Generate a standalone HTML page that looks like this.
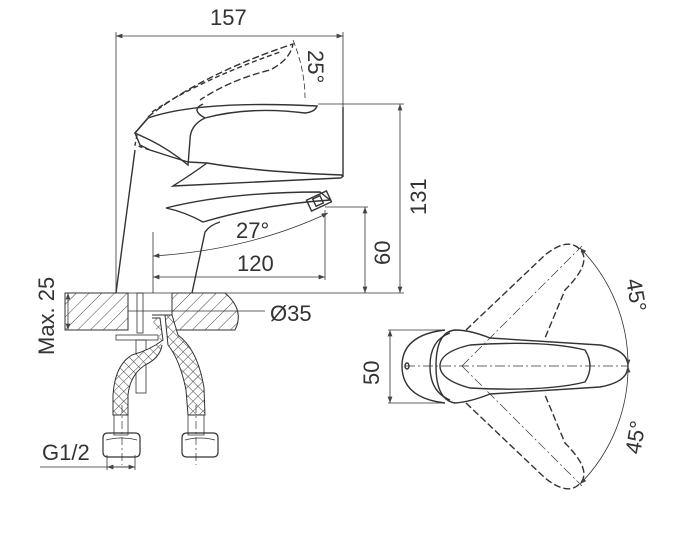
<!DOCTYPE html>
<html><head><meta charset="utf-8"><style>
html,body{margin:0;padding:0;background:#fff;}
svg{display:block;}
text{font-family:"Liberation Sans Narrow","Liberation Sans",sans-serif;fill:#333;}
</style></head><body>
<svg width="680" height="549" viewBox="0 0 680 549" xmlns="http://www.w3.org/2000/svg">
<defs>
<pattern id="hatch" width="9" height="9" patternUnits="userSpaceOnUse" patternTransform="rotate(45)">
<line x1="0" y1="0" x2="0" y2="9" stroke="#444" stroke-width="1"/>
</pattern>
<pattern id="mesh" width="7" height="7" patternUnits="userSpaceOnUse" patternTransform="rotate(45)">
<rect width="7" height="7" fill="#fff"/>
<path d="M0 0H7M0 0V7" stroke="#444" stroke-width="1"/>
</pattern>
<marker id="a" markerWidth="8" markerHeight="6" refX="8" refY="3" orient="auto"><path d="M0 0L8 3L0 6Z" fill="#444"/></marker>
<marker id="b" markerWidth="8" markerHeight="6" refX="0" refY="3" orient="auto"><path d="M8 0L0 3L8 6Z" fill="#444"/></marker>
</defs>
<g fill="none" stroke="#333" stroke-width="1.4">
<line x1="116" y1="36" x2="343" y2="36" stroke-width="0.8" marker-start="url(#b)" marker-end="url(#a)"/>
<line x1="116" y1="32" x2="116" y2="293" stroke-width="0.8"/>
<line x1="343" y1="32" x2="343" y2="177" stroke-width="0.8"/>
<path d="M293 40 Q305 70 305 98" stroke-dasharray="6 3" stroke-width="0.8"/>
<path d="M148 117 Q200 75 293 44 Q290 60 270 70 Q230 80 200 100" stroke-dasharray="7 3"/>
<path d="M152 112 Q200 80 280 52" stroke-dasharray="5 3"/>
<path d="M137 135 L135 145 L150 150" stroke-dasharray="4 3"/>
<path d="M148 118 Q200 100 317 106 Q315 112 305 113 Q250 106 205 118 Q190 125 190 140 L188 165 Q170 150 150 140 L135 133 Z"/>
<path d="M148 118 L135 133 L140 145 L150 150 L175 158 L188 162"/>
<path d="M203 104 Q190 110 205 118"/>
<path d="M188 162 L207 163 Q260 172 342 175 Q343 178 340 178 L173 186 Q195 172 207 163"/>
<line x1="343" y1="107" x2="343" y2="177"/>
<path d="M135 150 L116 293"/>
<path d="M192 293 L205 232 Q210 225 220 222"/>
<path d="M166 208 Q230 192 320 192 L330 200 Q260 205 203 222 Q185 212 166 208 Z"/>
<rect x="308" y="195" width="22" height="12" transform="rotate(-25 319 201)"/>
<rect x="314" y="197" width="8" height="8" transform="rotate(-25 318 201)"/>
<line x1="318" y1="104" x2="404" y2="104" stroke-width="0.8"/>
<line x1="400" y1="104" x2="400" y2="293" stroke-width="0.8" marker-start="url(#b)" marker-end="url(#a)"/>
<line x1="325" y1="207" x2="368" y2="207" stroke-width="0.8"/>
<line x1="365" y1="207" x2="365" y2="293" stroke-width="0.8" marker-start="url(#b)" marker-end="url(#a)"/>
<line x1="65" y1="293" x2="404" y2="293" stroke-width="0.8"/>
<line x1="153" y1="232" x2="153" y2="293" stroke-width="0.8"/>
<line x1="325" y1="210" x2="325" y2="280" stroke-width="0.8"/>
<line x1="153" y1="277" x2="325" y2="277" stroke-width="0.8" marker-start="url(#b)" marker-end="url(#a)"/>
<path d="M153 256 Q250 250 328 213" stroke-width="0.8" marker-start="url(#b)" marker-end="url(#a)"/>
<path d="M65 293 H128 V330 H65 Z" fill="url(#hatch)" stroke-width="1"/>
<path d="M172 293 H225 Q245 310 235 330 H172 Z" fill="url(#hatch)" stroke-width="1"/>
<line x1="68" y1="293" x2="68" y2="330" stroke-width="0.8" marker-start="url(#b)" marker-end="url(#a)"/>
<line x1="128" y1="311" x2="265" y2="311" stroke-width="0.8"/>
<rect x="137" y="293" width="6" height="40" stroke-width="0.8"/>
<rect x="116" y="335" width="42" height="5" stroke-width="0.8"/>
<rect x="136" y="340" width="10" height="53" stroke-width="0.8"/>
<path d="M152 315 L165 315 L168 345 Q180 360 186 390 L188 415 L205 415 L204 388 Q198 350 178 335 L172 315 Z" fill="url(#mesh)" stroke-width="1"/>
<path d="M152 318 L160 318 L163 340 Q150 350 132 355 Q115 365 113 395 L113 415 L128 415 L128 395 Q130 375 145 365 Q160 358 162 345" fill="url(#mesh)" stroke-width="1"/>
<path d="M114 415 h14 v20 h-14z M188 415 h16 v20 h-16z" stroke-width="0.8"/>
<path d="M103 438 q0 -5 5 -5 h27 q5 0 5 5 v14 q0 5 -5 5 h-27 q-5 0 -5 -5z M182 438 q0 -5 5 -5 h26 q5 0 5 5 v14 q0 5 -5 5 h-26 q-5 0 -5 -5z" stroke-width="1.2"/>
<path d="M106 440 q15 -4 31 0 M185 440 q15 -4 30 0" stroke-width="0.8"/>
<line x1="107" y1="455" x2="107" y2="470" stroke-width="0.8"/>
<line x1="135" y1="455" x2="135" y2="470" stroke-width="0.8"/>
<line x1="40" y1="467" x2="135" y2="467" stroke-width="0.8"/>
<line x1="107" y1="467" x2="135" y2="467" stroke-width="0.8" marker-start="url(#b)" marker-end="url(#a)"/>
<line x1="122" y1="405" x2="122" y2="465" stroke-dasharray="8 3 2 3" stroke-width="0.7"/>
<line x1="196" y1="405" x2="196" y2="465" stroke-dasharray="8 3 2 3" stroke-width="0.7"/>
<line x1="388" y1="330" x2="445" y2="330" stroke-width="0.8"/>
<line x1="388" y1="403" x2="445" y2="403" stroke-width="0.8"/>
<line x1="390" y1="330" x2="390" y2="403" stroke-width="0.8" marker-start="url(#b)" marker-end="url(#a)"/>
<path d="M445 330 Q402 335 402 366 Q402 398 445 403"/>
<ellipse cx="407" cy="366" rx="2" ry="3"/>
<path d="M450 333 Q430 340 430 366 Q430 392 450 400"/>
<path d="M455 330 Q470 330 490 338 L600 345 Q628 350 628 366 Q628 382 600 387 L490 394 Q470 402 455 403 Q436 400 436 366 Q436 332 455 330 Z"/>
<path d="M470 345 Q545 340 585 350 Q595 366 585 382 Q545 392 470 388 Q440 380 440 366 Q440 352 470 345"/>
<path d="M466 330 L545 255 Q570 235 582 252 Q590 265 565 290 L545 338" stroke-dasharray="7 3"/>
<path d="M466 403 L545 478 Q570 498 582 481 Q590 468 565 443 L545 395" stroke-dasharray="7 3"/>
<line x1="405" y1="366" x2="628" y2="366" stroke-dasharray="10 3 2 3" stroke-width="0.7"/>
<line x1="462" y1="366" x2="582" y2="246" stroke-dasharray="10 3 2 3" stroke-width="0.7"/>
<line x1="462" y1="366" x2="582" y2="486" stroke-dasharray="10 3 2 3" stroke-width="0.7"/>
<path d="M580 248 A166 166 0 0 1 628 366" stroke-width="0.8" marker-start="url(#b)" marker-end="url(#a)"/>
<path d="M628 366 A166 166 0 0 1 580 484" stroke-width="0.8" marker-start="url(#b)" marker-end="url(#a)"/>
</g>
<g font-size="22">
<text x="210" y="25">157</text>
<text x="237" y="271">120</text>
<text x="236" y="238">27°</text>
<text x="270" y="321">Ø35</text>
<text x="42" y="460">G1/2</text>
<text transform="translate(308 50) rotate(90)">25°</text>
<text transform="translate(426 215) rotate(-90)">131</text>
<text transform="translate(390 265) rotate(-90)">60</text>
<text transform="translate(379 385) rotate(-90)">50</text>
<text transform="translate(54 355) rotate(-90)">Max. 25</text>
<text transform="translate(626 280) rotate(80)">45°</text>
<text transform="translate(640 455) rotate(-80)">45°</text>
</g>
</svg>
</body></html>
